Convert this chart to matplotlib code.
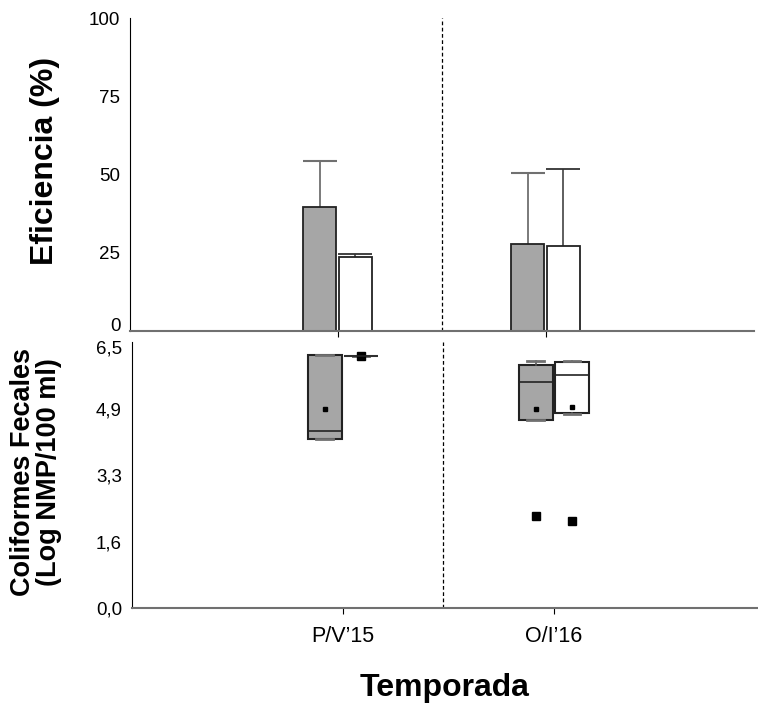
import numpy as np
import matplotlib.pyplot as plt
from matplotlib.transforms import offset_copy

plt.rcParams['font.family'] = ['Liberation Sans', 'DejaVu Sans']

# data
temporadas = ['P/V\u201915', 'O/I\u201916']
efic_gris = [39.7, 27.6]
efic_gris_err = [14.7, 22.9]
efic_blanco = [23.5, 27.0]
efic_blanco_err = [1.1, 24.6]

# coliformes fecales (log NMP/100 ml): box stats per temporada
cf_gris_q1 = [4.15, 4.62]
cf_gris_med = [4.34, 5.55]
cf_gris_q3 = [6.20, 5.96]
cf_gris_lo = [4.15, 4.60]
cf_gris_hi = [6.20, 6.05]
cf_gris_mean = [4.88, 4.88]
cf_gris_fliers = [[], [2.25]]

cf_blanco_q1 = [6.18, 4.78]
cf_blanco_med = [6.18, 5.71]
cf_blanco_q3 = [6.18, 6.03]
cf_blanco_lo = [6.18, 4.76]
cf_blanco_hi = [6.18, 6.05]
cf_blanco_mean = [None, 4.93]
cf_blanco_fliers = [[6.18], [2.13]]

x = np.arange(1, len(temporadas) + 1)
w = 0.16
gris = '#a6a6a6'

fig = plt.figure(figsize=(7.58, 7.04), dpi=100)
ax1 = fig.add_axes([0.1715, 0.5303, 0.8232, 0.4441])
ax2 = fig.add_axes([0.1737, 0.1364, 0.835, 0.3778])

# top panel
ax1.bar(x - 0.088, efic_gris, w, color=gris, edgecolor='#222222', linewidth=1.3, zorder=2)
ax1.bar(x + 0.084, efic_blanco, w, color='white', edgecolor='#222222', linewidth=1.3, zorder=2)
eb1 = ax1.errorbar(x - 0.088, efic_gris, yerr=[[0, 0], efic_gris_err], fmt='none',
                   ecolor='#707070', elinewidth=1.3, capsize=12, capthick=1.5, zorder=1)
eb2 = ax1.errorbar(x + 0.084, efic_blanco, yerr=[[0, 0], efic_blanco_err], fmt='none',
                   ecolor='#333333', elinewidth=1.1, capsize=12, capthick=1.3, zorder=1)
eb1[1][0].set_visible(False)
eb2[1][0].set_visible(False)
ax1.set_xlim(0, 3)
ax1.set_ylim(0, 100)
ax1.set_yticks([0, 25, 50, 75, 100])
ax1.set_xticks(x)
ax1.set_xticklabels([])
ax1.axvline(1.5, color='black', linestyle=(0, (3, 2)), linewidth=0.9)
ax1.spines['top'].set_visible(False)
ax1.spines['right'].set_visible(False)
ax1.spines['bottom'].set_color('#707070')
ax1.spines['bottom'].set_linewidth(1.5)
ax1.tick_params(axis='y', length=0, pad=7, labelsize=13.5)
ax1.tick_params(axis='x', length=4, direction='out')
lab0 = ax1.get_yticklabels()[0]
lab0.set_transform(offset_copy(lab0.get_transform(), fig=fig, y=6, units='dots'))

# bottom panel
def stats(q1, med, q3, lo, hi, mean, fl):
    out = []
    for i in range(len(q1)):
        d = dict(q1=q1[i], med=med[i], q3=q3[i], whislo=lo[i], whishi=hi[i], fliers=fl[i])
        d['mean'] = mean[i] if mean[i] is not None else np.nan
        out.append(d)
    return out

box_kw = dict(widths=w, showmeans=True, patch_artist=True,
              whiskerprops=dict(color='#555555', linewidth=1.2),
              capprops=dict(color='#707070', linewidth=2),
              medianprops=dict(color='#222222', linewidth=1.2),
              meanprops=dict(marker='s', markerfacecolor='black', markeredgecolor='black', markersize=3),
              flierprops=dict(marker='s', markerfacecolor='black', markeredgecolor='black', markersize=6))

b1 = ax2.bxp(stats(cf_gris_q1, cf_gris_med, cf_gris_q3, cf_gris_lo, cf_gris_hi, cf_gris_mean, cf_gris_fliers),
             positions=x - 0.085, **box_kw)
b2 = ax2.bxp(stats(cf_blanco_q1, cf_blanco_med, cf_blanco_q3, cf_blanco_lo, cf_blanco_hi, cf_blanco_mean, cf_blanco_fliers),
             positions=x + 0.087, **box_kw)
for p in b1['boxes']:
    p.set_facecolor(gris)
    p.set_edgecolor('#222222')
    p.set_linewidth(1.5)
for p in b2['boxes']:
    p.set_facecolor('white')
    p.set_edgecolor('#222222')
    p.set_linewidth(1.5)
b2['boxes'][0].set_edgecolor('#707070')

ax2.set_xlim(0, 3)
ax2.set_ylim(0, 6.52)
ax2.set_yticks([0, 1.625, 3.25, 4.875, 6.5])
ax2.set_yticklabels(['0,0', '1,6', '3,3', '4,9', '6,5'])
ax2.set_xticks(x)
ax2.set_xticklabels(temporadas, fontsize=15.5)
ax2.axvline(1.475, color='black', linestyle=(0, (3, 2)), linewidth=0.9)
ax2.spines['top'].set_visible(False)
ax2.spines['right'].set_visible(False)
ax2.spines['bottom'].set_color('#707070')
ax2.spines['bottom'].set_linewidth(1.5)
ax2.tick_params(axis='y', length=0, pad=7, labelsize=13.5)
ax2.tick_params(axis='x', length=4, direction='out', pad=9)
lab65 = ax2.get_yticklabels()[-1]
lab65.set_transform(offset_copy(lab65.get_transform(), fig=fig, y=-4, units='dots'))

fig.text(0.06, 0.771, 'Eficiencia (%)', rotation=90, fontsize=23, fontweight='bold',
         ha='center', va='center')
fig.text(0.047, 0.329, 'Coliformes Fecales\n(Log NMP/100 ml)', rotation=90, fontsize=19.5,
         fontweight='bold', ha='center', va='center', linespacing=1.0)
fig.text(0.586, 0.023, 'Temporada', fontsize=23, fontweight='bold', ha='center', va='center')

fig.savefig('out.png', dpi=100)
